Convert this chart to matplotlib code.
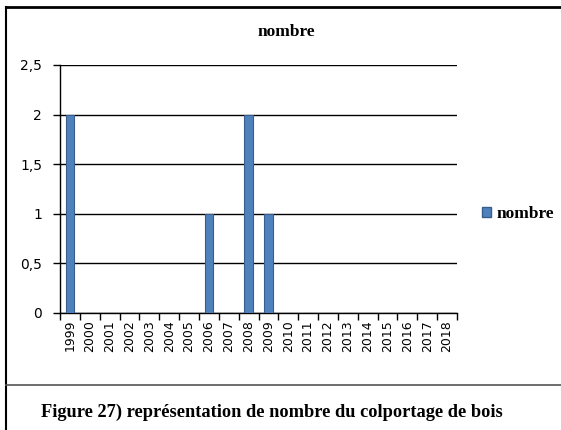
import matplotlib
matplotlib.use('Agg')
import matplotlib.pyplot as plt
from matplotlib.lines import Line2D
from matplotlib.ticker import FuncFormatter

years = [str(y) for y in range(1999, 2019)]
nombre = [2, 0, 0, 0, 0, 0, 0, 1, 0, 2, 1, 0, 0, 0, 0, 0, 0, 0, 0, 0]
y_ticks = [0, 0.5, 1, 1.5, 2, 2.5]

W, H = 561, 430
fig = plt.figure(figsize=(W / 100, H / 100), dpi=100)
ax = fig.add_axes([60 / W, 1 - 313 / H, 397 / W, 248 / H])

x = list(range(len(years)))
ax.bar(x, nombre, width=0.42, color='#4F81BD', edgecolor='#385D8A',
       linewidth=0.8, label='nombre', zorder=3)

ax.set_xlim(-0.5, len(years) - 0.5)
ax.set_ylim(0, 2.5)
ax.set_yticks(y_ticks)
ax.yaxis.set_major_formatter(FuncFormatter(lambda v, p: ('%g' % v).replace('.', ',')))
ax.yaxis.grid(True, color='black', linewidth=1, zorder=0)
ax.tick_params(axis='y', length=5, width=1, labelsize=10, pad=8)

# ticks between categories, labels centred on bars
ax.set_xticks([i - 0.5 for i in range(len(years) + 1)])
ax.set_xticklabels([])
ax.set_xticks(x, minor=True)
ax.set_xticklabels(years, minor=True, rotation=90, fontsize=9)
ax.tick_params(axis='x', which='major', length=5, width=1, direction='out')
ax.tick_params(axis='x', which='minor', length=0, pad=5)

for s in ['top', 'right']:
    ax.spines[s].set_visible(False)
ax.spines['left'].set_linewidth(1)
ax.spines['bottom'].set_linewidth(1)

fig.text(286 / W, 1 - 32 / H, 'nombre', ha='center', va='center',
         family='Liberation Serif', weight='bold', fontsize=12.5)

fig.legend(handles=[plt.Rectangle((0, 0), 1, 1, color='#4F81BD', ec='#385D8A')],
           labels=['nombre'], loc='center left', bbox_to_anchor=(466 / W, 1 - 214 / H),
           frameon=False, handlelength=0.55, handleheight=0.55, handletextpad=0.3,
           prop={'family': 'Liberation Serif', 'weight': 'bold', 'size': 12.5})

# frame around the chart and caption separator
fig.add_artist(Line2D([6 / W, 1], [1 - 7 / H, 1 - 7 / H], transform=fig.transFigure,
                      color='black', linewidth=2))
fig.add_artist(Line2D([6 / W, 6 / W], [0, 1 - 7 / H], transform=fig.transFigure,
                      color='black', linewidth=1.5))
fig.add_artist(Line2D([6 / W, 1], [1 - 385 / H, 1 - 385 / H], transform=fig.transFigure,
                      color='#555555', linewidth=1.2))

fig.text(41 / W, 1 - 412 / H, 'Figure 27) représentation de nombre du colportage de bois',
         ha='left', va='center', family='Liberation Serif', weight='bold', fontsize=13.2)

fig.savefig('out.png', dpi=100)
